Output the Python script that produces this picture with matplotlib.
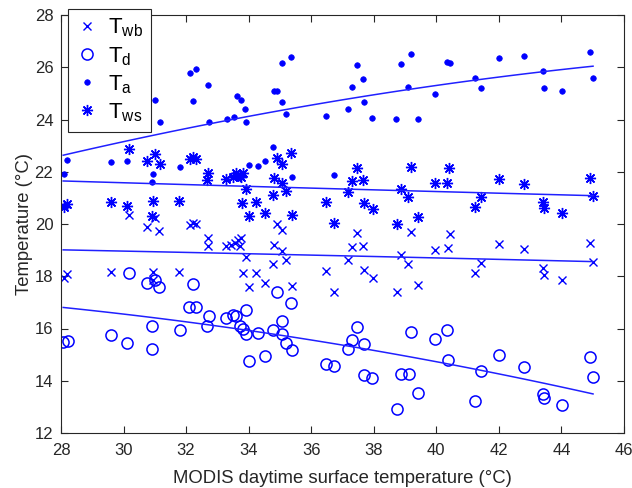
import numpy as np
import matplotlib
matplotlib.use("Agg")
import matplotlib.pyplot as plt

plt.rcParams['font.family'] = ['Liberation Sans', 'DejaVu Sans']
plt.rcParams['mathtext.fontset'] = 'custom'
plt.rcParams['mathtext.rm'] = 'Liberation Sans'
plt.rcParams['mathtext.it'] = 'Liberation Sans'
plt.rcParams['mathtext.default'] = 'regular'

# ---- data ----
x_wb = [28.10, 28.20, 29.59, 30.17, 30.76, 31.00, 31.14, 30.93, 30.93, 31.78, 32.12, 32.23, 32.31,
        32.69, 32.69, 33.29, 33.45, 33.56, 33.66, 33.77, 33.72, 33.91, 33.81, 34.25, 34.01, 34.53,
        34.78, 34.81, 34.92, 35.08, 35.05, 35.18, 35.38, 36.47, 36.73, 37.18, 37.31, 37.47, 37.67,
        37.68, 37.96, 38.73, 38.86, 39.11, 39.18, 39.40, 39.95, 40.37, 40.43, 41.23, 41.44, 42.00,
        42.80, 43.42, 43.43, 44.03, 44.90, 45.01]
t_wb = [17.93, 18.09, 18.16, 20.35, 19.90, 20.22, 19.74, 18.16, 17.86, 18.18, 19.97, 20.05, 20.00,
        19.46, 19.14, 19.14, 19.20, 19.27, 19.39, 19.46, 19.17, 18.75, 18.12, 18.14, 17.58, 17.74,
        18.47, 19.20, 20.00, 19.77, 18.98, 18.63, 17.63, 18.22, 17.38, 18.63, 19.11, 19.65, 19.14,
        18.24, 17.93, 17.38, 18.82, 18.47, 19.71, 17.67, 19.01, 19.07, 19.61, 18.12, 18.50, 19.23,
        19.05, 18.33, 18.04, 17.86, 19.27, 18.54]

x_d = [28.07, 28.23, 29.59, 30.12, 30.17, 30.76, 31.00, 31.14, 30.92, 30.90, 31.80, 32.23, 32.10,
       32.31, 32.73, 32.67, 33.29, 33.49, 33.61, 33.90, 33.72, 33.81, 33.93, 34.01, 34.30, 34.53,
       34.78, 34.92, 35.08, 35.05, 35.18, 35.35, 35.40, 36.47, 36.73, 37.18, 37.31, 37.47, 37.68,
       37.68, 37.95, 38.73, 38.86, 39.12, 39.18, 39.40, 39.95, 40.35, 40.37, 41.23, 41.44, 42.00,
       42.80, 43.42, 43.43, 44.03, 44.90, 45.01]
t_d = [15.48, 15.54, 15.76, 15.46, 18.12, 17.76, 17.86, 17.57, 16.10, 15.21, 15.95, 17.70, 16.84,
       16.84, 16.49, 16.10, 16.42, 16.52, 16.49, 16.71, 16.10, 15.98, 15.78, 14.77, 15.82, 14.93,
       15.95, 17.38, 16.27, 15.80, 15.44, 16.99, 15.18, 14.64, 14.55, 15.22, 15.57, 16.05, 15.41,
       14.23, 14.10, 12.92, 14.27, 14.27, 15.86, 13.55, 15.59, 15.95, 14.80, 13.24, 14.38, 14.97,
       14.53, 13.49, 13.34, 13.08, 14.89, 14.16]

x_a = [28.10, 28.20, 29.59, 30.10, 30.77, 31.00, 31.16, 30.93, 30.90, 31.80, 32.12, 32.31, 32.23,
       32.69, 32.73, 33.31, 33.53, 33.63, 33.75, 33.88, 33.93, 34.01, 34.30, 34.53, 34.78, 34.81,
       34.91, 35.05, 35.18, 35.08, 35.35, 35.40, 36.47, 36.74, 37.19, 37.31, 37.47, 37.67, 37.68,
       37.95, 38.71, 38.86, 39.19, 39.10, 39.41, 39.95, 40.35, 40.43, 41.23, 41.44, 42.00, 42.80,
       43.42, 43.43, 44.03, 44.90, 45.01]
t_a = [21.92, 22.45, 22.37, 22.41, 24.17, 24.75, 23.92, 21.92, 21.62, 22.17, 25.77, 25.92, 24.71,
       25.32, 23.92, 24.01, 24.11, 24.91, 24.75, 24.40, 23.90, 22.26, 22.23, 22.40, 22.96, 25.10,
       25.08, 24.67, 24.20, 26.18, 26.38, 21.79, 24.15, 21.89, 24.40, 25.26, 26.08, 25.56, 24.67,
       24.07, 24.02, 26.11, 26.51, 25.26, 24.02, 24.99, 26.20, 26.15, 25.58, 25.21, 26.37, 26.44,
       25.85, 25.21, 25.09, 26.60, 25.58]

x_ws = [28.10, 28.20, 29.59, 30.10, 30.17, 30.76, 31.00, 31.16, 30.93, 30.92, 31.78, 32.12, 32.23,
        32.31, 32.69, 32.67, 33.29, 33.50, 33.61, 33.72, 33.82, 33.77, 33.93, 33.79, 34.01, 34.25,
        34.53, 34.78, 34.81, 34.91, 35.08, 35.35, 35.05, 35.18, 35.38, 36.47, 36.73, 37.18, 37.31,
        37.47, 37.67, 37.68, 37.96, 38.73, 38.86, 39.11, 39.18, 39.40, 39.95, 40.35, 40.40, 41.23,
        41.44, 42.00, 42.80, 43.42, 43.43, 44.03, 44.90, 45.01]
t_ws = [20.64, 20.77, 20.83, 20.69, 22.86, 22.43, 22.68, 22.30, 20.88, 20.31, 20.88, 22.48, 22.56,
        22.48, 21.94, 21.69, 21.71, 21.79, 21.94, 21.84, 21.97, 21.79, 21.33, 20.82, 20.31, 20.86,
        20.41, 21.11, 21.75, 22.54, 22.29, 22.73, 21.58, 21.28, 20.35, 20.83, 20.05, 21.24, 21.66,
        22.14, 21.69, 20.82, 20.57, 19.99, 21.33, 21.03, 22.20, 20.28, 21.58, 21.58, 22.14, 20.64,
        21.05, 21.71, 21.53, 20.86, 20.61, 20.41, 21.75, 21.09]

# fitted trend curves, sample points
fit_x_wb = [28.07, 34.04, 40.43, 45.01]
fit_wb = [19.01, 18.86, 18.69, 18.56]
fit_x_d = [28.07, 33.72, 37.23, 40.05, 45.01]
fit_d = [16.80, 16.01, 15.25, 14.76, 13.49]
fit_x_a = [28.07, 34.04, 40.43, 43.42, 45.01]
fit_a = [22.64, 24.11, 25.39, 25.85, 26.02]
fit_x_ws = [28.07, 34.04, 40.43, 45.01]
fit_ws = [21.65, 21.43, 21.24, 21.08]

labels = [r'$T_{wb}$', r'$T_d$', r'$T_a$', r'$T_{ws}$']
x_ticks = [28, 30, 32, 34, 36, 38, 40, 42, 44, 46]
y_ticks = [12, 14, 16, 18, 20, 22, 24, 26, 28]

# ---- figure ----
fig = plt.figure(figsize=(6.32, 4.88), dpi=100)
ax = fig.add_axes([61/632, 1-433/488, (624-61)/632, (433-15)/488])

mc = '#0000ff'
lc = '#2020ff'

h1, = ax.plot(x_wb, t_wb, ls='none', marker='x', ms=5.5, mew=1.0, color=mc)
h2, = ax.plot(x_d, t_d, ls='none', marker='o', ms=8, mfc='none', mec=mc, mew=1.1)
h3, = ax.plot(x_a, t_a, ls='none', marker='o', ms=4, mfc=mc, mec=mc, mew=0.5)
h4, = ax.plot(x_ws, t_ws, ls='none', marker=(8, 2, 0), ms=8, mew=1.0, color=mc)

for fx, fy in [(fit_x_wb, fit_wb), (fit_x_d, fit_d), (fit_x_a, fit_a), (fit_x_ws, fit_ws)]:
    fx = np.asarray(fx); fy = np.asarray(fy)
    c = np.polyfit(fx, fy, 2)
    xx = np.linspace(fx.min(), fx.max(), 100)
    ax.plot(xx, np.polyval(c, xx), color=lc, lw=1.1)

ax.set_xlim(28, 46)
ax.set_ylim(12, 28)
ax.set_xticks(x_ticks)
ax.set_yticks(y_ticks)
ax.tick_params(direction='in', top=True, right=True, length=5, width=0.8,
               labelsize=12, colors='#262626')
ax.tick_params(axis='x', pad=7.5)
ax.tick_params(axis='y', pad=5.5)
for s in ax.spines.values():
    s.set_color('#262626')
    s.set_linewidth(0.8)
ax.set_xlabel('MODIS daytime surface temperature (°C)', fontsize=13.3, color='#262626', labelpad=8.5)
ax.set_ylabel('Temperature (°C)', fontsize=13.3, color='#262626', labelpad=1)

leg = fig.legend([h1, h2, h3, h4], labels, loc='upper left',
                 bbox_to_anchor=(68/632, 1-9/488), bbox_transform=fig.transFigure,
                 fancybox=False, edgecolor='#262626', fontsize=16, borderaxespad=0,
                 handlelength=1.0, handletextpad=0.45, labelspacing=0.25, borderpad=0.35,
                 framealpha=1)
leg.get_frame().set_linewidth(0.8)

fig.savefig('out.png', dpi=100)
